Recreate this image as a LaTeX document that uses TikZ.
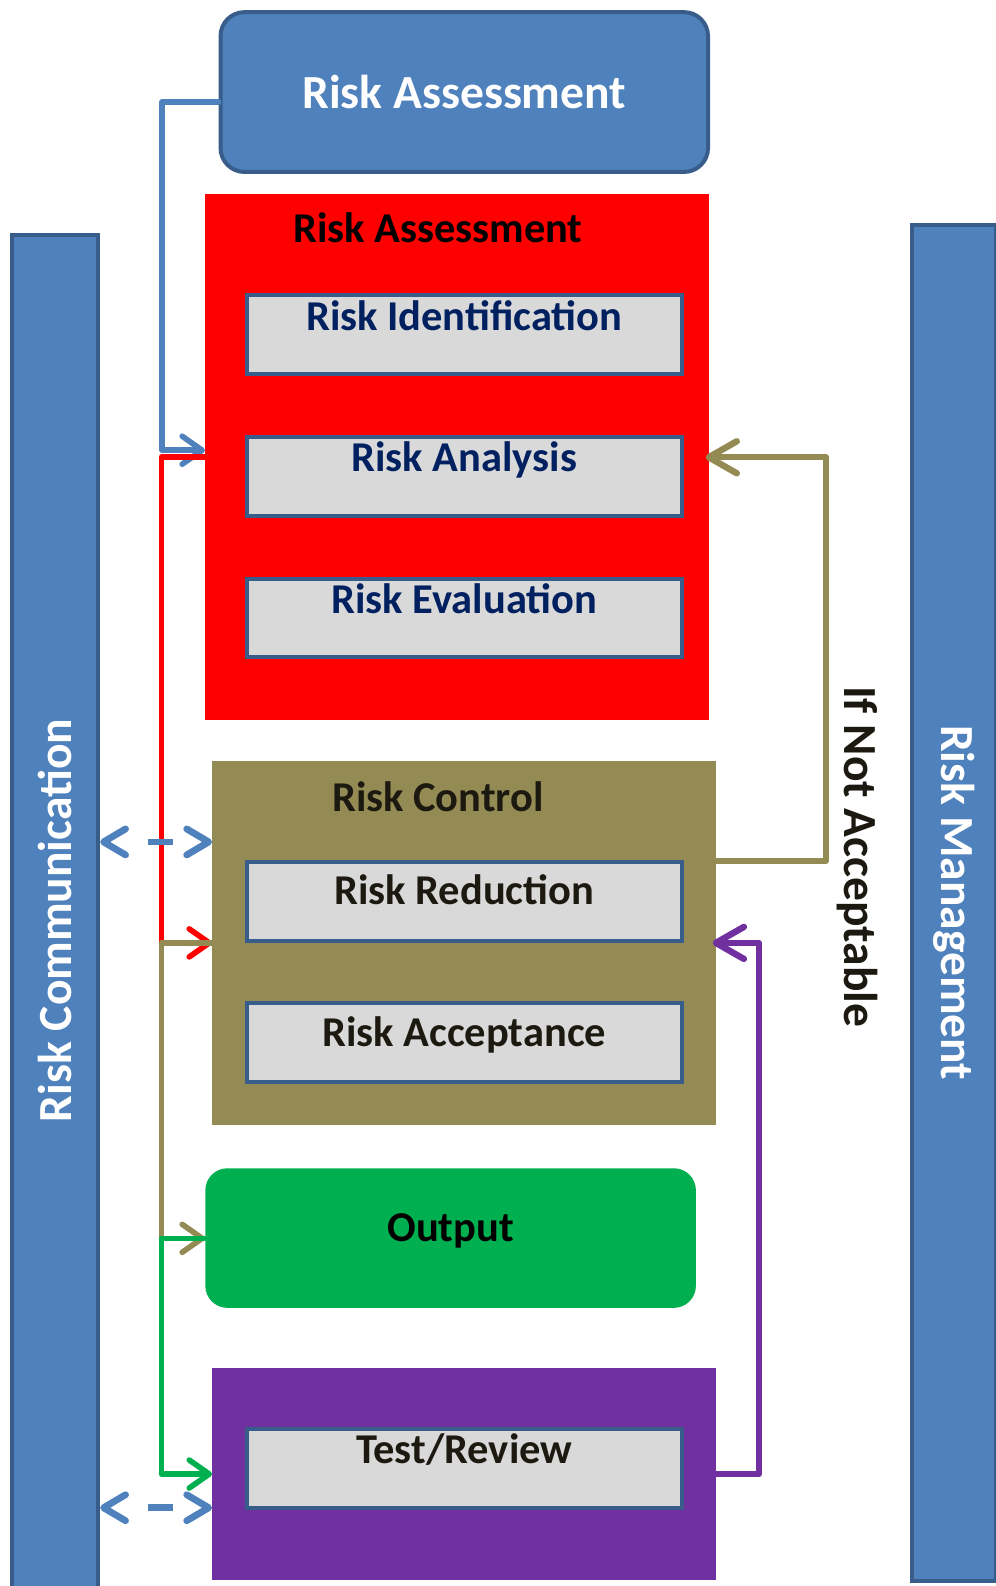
\documentclass[tikz,border=0pt]{standalone}
\usepackage{fontspec}
\setmainfont{Carlito}
\usepackage{xcolor}
\usetikzlibrary{arrows.meta}
\definecolor{rmblue}{HTML}{4F81BD}
\definecolor{rmedge}{HTML}{385D8A}
\definecolor{rmred}{HTML}{FF0000}
\definecolor{rmolive}{HTML}{948A54}
\definecolor{rmgreen}{HTML}{00B050}
\definecolor{rmpurple}{HTML}{7030A0}
\definecolor{rmgrey}{HTML}{D9D9D9}
\definecolor{rmnavy}{HTML}{002060}
\definecolor{rmdark}{HTML}{1C1A10}

\begin{document}
\begin{tikzpicture}
			[x=0.5pt,y=-0.5pt,scale=1.0115,
			every node/.style={scale=1.0115, font=\bfseries\fontsize{21}{25}\selectfont, inner sep=0pt},
			bigtext/.style={font=\bfseries\fontsize{23.5}{28}\selectfont},
			panel/.style={minimum width=249pt},
			subbox/.style={draw=rmedge, line width=2pt, fill=rmgrey, minimum width=215pt, minimum height=39pt, text height=14pt, text depth=18.4pt},
			lowtext/.style={text depth=10.4pt},
			sidebar/.style={bigtext, draw=rmedge, line width=2pt, fill=rmblue, text=white},
			link/.style={line width=2.8pt, line cap=round, line join=round, -{Straight Barb[length=10pt,width=14pt,round]}},
			biglink/.style={link, line width=3.2pt, shorten >=-2pt, -{Straight Barb[length=14pt,width=16pt,round]}},
			talk/.style={line width=3.4pt, draw=rmblue, {Straight Barb[length=11pt,width=13pt,round]}-{Straight Barb[length=11pt,width=13pt,round]}, dash pattern=on 12.5pt off 60pt, dash phase=52pt}]
			\useasboundingbox (0,0) rectangle (984.7,1568);
			\node[sidebar, rotate=90, minimum width=678pt, minimum height=42.5pt] (comm) at (54.5,910) {Risk Communication};
			\node[sidebar, rotate=-90, minimum width=670.5pt, minimum height=41.5pt] (mgmt) at (943.5,892.5) {Risk Management};
			\node[bigtext, draw=rmedge, line width=2pt, fill=rmblue, text=white, rounded corners=12pt, minimum width=241pt, minimum height=79pt] (risktop) at (459,91) {Risk Assessment};
			\node[panel, fill=rmred, minimum height=260pt] (assess) at (452,452) {};
			\node (assesstitle) at (433,225) {Risk Assessment};
			\node[subbox, text=rmnavy] (ident) at (459,331) {Risk Identification};
			\node[subbox, text=rmnavy] (analysis) at (459,471) {Risk Analysis};
			\node[subbox, text=rmnavy] (evaluation) at (459,611) {Risk Evaluation};
			\node[panel, fill=rmolive, minimum height=180pt] (control) at (459,932) {};
			\node[text=rmdark] (controltitle) at (433,788) {Risk Control};
			\node[subbox, lowtext, text=rmdark] (reduction) at (459,891) {Risk Reduction};
			\node[subbox, lowtext, text=rmdark] (acceptance) at (459,1031) {Risk Acceptance};
			\node[fill=rmgreen, rounded corners=11pt, minimum width=242.5pt, minimum height=69pt, text height=14pt, text depth=10.4pt] (output) at (445.5,1224) {Output};
			\node[panel, fill=rmpurple, minimum height=105pt] (review) at (459,1457) {};
			\node[subbox, text=rmdark] (testreview) at (459,1451.5) {Test/Review};
			\node[bigtext, rotate=-90, text=rmdark] (ifnot) at (848,847) {If Not Acceptable};
			\draw[link, draw=rmblue] ([yshift=-5pt]risktop.west) -- ++(-56,0) |- ([yshift=3.5pt]assess.west);
			\draw[link, draw=rmred] (assess.west) -- ++(-43,0) |- (control.west);
			\draw[link, draw=rmolive] (control.west) -- ++(-50,0) |- (output.west);
			\draw[link, draw=rmgreen] (output.west) -- ++(-43,0) |- (review.west);
			\draw[biglink, draw=rmolive] ([yshift=40.5pt]control.east) -- ++(108,0) |- (assess.east);
			\draw[biglink, draw=rmpurple] (review.east) -- ++(42,0) |- (control.east);
			\coordinate (talkctrl) at ([yshift=50pt]control.west);
			\coordinate (talkrev) at ([yshift=-16.5pt]review.west);
			\draw[talk] (talkctrl -| comm.south) -- (talkctrl);
			\draw[talk] (talkrev -| comm.south) -- (talkrev);
		\end{tikzpicture}
\end{document}
